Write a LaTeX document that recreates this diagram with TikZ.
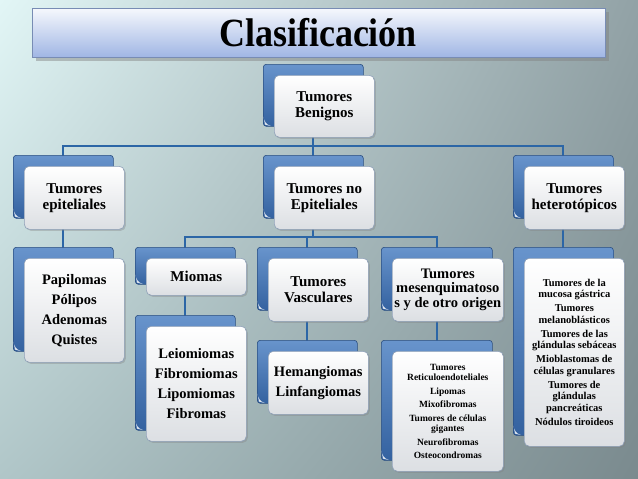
\documentclass[tikz,border=0pt]{standalone}
\usepackage{fontspec}
\setmainfont{Liberation Serif}[BoldFont={Liberation Serif Bold}]
\usepackage{tikz}
\usetikzlibrary{calc,shadows,shadings,backgrounds}
\definecolor{BgTL}{RGB}{226,246,246}
\definecolor{BgTR}{RGB}{146,162,166}
\definecolor{BgBL}{RGB}{176,198,200}
\definecolor{BgBR}{RGB}{122,138,142}
\definecolor{LinkBlue}{RGB}{44,102,166}
\definecolor{BoxBlueT}{RGB}{104,148,204}
\definecolor{BoxBlueB}{RGB}{52,98,160}
\definecolor{FrontGray}{RGB}{220,223,227}
\definecolor{EdgeGray}{RGB}{140,158,182}
\definecolor{BarTop}{RGB}{246,248,253}
\definecolor{BarBot}{RGB}{160,182,228}
\definecolor{BarEdge}{RGB}{120,140,180}
\tikzset{
  backbox/.style ={rectangle, rounded corners=3pt, draw=BoxBlueB!80!black, line width=.6pt,
                   top color=BoxBlueT, bottom color=BoxBlueB, anchor=north west, inner sep=0pt},
  frontbox/.style={rectangle, rounded corners=5pt, draw=EdgeGray, line width=.6pt,
                   top color=white, bottom color=FrontGray, text=black, align=center,
                   font=\rmfamily\bfseries\fontsize{15}{16}\selectfont, anchor=north west, inner sep=2pt,
                   drop shadow={shadow xshift=1.5pt, shadow yshift=-1.5pt, opacity=.35}},
  curl/.style    ={fill=white, opacity=.85},
  conn/.style    ={draw=LinkBlue, line width=2pt},
  titlebar/.style={rectangle, draw=BarEdge, line width=.8pt, top color=BarTop, bottom color=BarBot,
                   minimum width=573pt, minimum height=49pt,
                   drop shadow={shadow xshift=4pt, shadow yshift=-4pt, opacity=.45}},
  titletext/.style={font=\rmfamily\bfseries\fontsize{40}{42}\selectfont, inner sep=0pt},
}
% box pair: [front options]{name}{x}{y}{width}{height}{text}
\newcommand{\tumbox}[7][]{%
  \node[backbox, minimum width=#5pt, minimum height=#6pt] (#2B) at (#3,#4) {};
  \fill[curl] ($(#2B.south west)+(0.5,-10)$) to[bend right=35] ($(#2B.south west)+(8,-0.5)$)
    -- ($(#2B.south west)+(2,-2)$) -- cycle;
  \node[frontbox, minimum width=#5pt, minimum height=#6pt, #1] (#2) at (#3+11,#4+11) {#7};
}

\begin{document}
\begin{tikzpicture}[x=1pt,y=-1pt]
  \useasboundingbox (0,0) rectangle (638,479);
  \begin{pgfonlayer}{background}
    \shade[upper left=BgTL, upper right=BgTR, lower left=BgBL, lower right=BgBR] (0,0) rectangle (638,479);
  \end{pgfonlayer}

  % title
  \node[titlebar] (bar) at (318.5,32.5) {};
  \node[titletext] (title) at (318,33) {\scalebox{0.9}[1]{Clasificación}};

  % level 1 and 2
  \tumbox{ben}{263}{64}{100}{62}{Tumores\\Benignos}
  \tumbox{epi}{13}{155}{100}{63}{Tumores\\epiteliales}
  \tumbox{noepi}{263}{155}{100}{63}{Tumores no\\Epiteliales}
  \tumbox{het}{513}{155}{100}{63}{Tumores\\heterotópicos}

  % level 3
  \tumbox[font=\rmfamily\bfseries\fontsize{14.5}{16}\selectfont]{pap}{13}{247}{100}{104}
    {Papilomas\\[4pt]Pólipos\\[4pt]Adenomas\\[4pt]Quistes}
  \tumbox{mio}{135}{247}{100}{37}{Miomas}
  \tumbox{vasc}{257}{247}{100}{63}{Tumores\\Vasculares}
  \tumbox[font=\rmfamily\bfseries\fontsize{14.5}{14.5}\selectfont]{mes}{381}{247}{111}{63}
    {Tumores\\mesenquimatoso\\s y de otro origen}
  \tumbox[font=\rmfamily\bfseries\fontsize{10.5}{11.5}\selectfont]{hetl}{513}{247}{100}{188}
    {Tumores de la\\mucosa gástrica\\[2.5pt]Tumores\\melanoblásticos\\[2.5pt]Tumores de las\\glándulas sebáceas\\[2.5pt]Mioblastomas de\\células granulares\\[2.5pt]Tumores de\\glándulas\\pancreáticas\\[2.5pt]Nódulos tiroideos}

  % level 4
  \tumbox[font=\rmfamily\bfseries\fontsize{14.5}{16}\selectfont]{leio}{135}{315}{100}{115}
    {Leiomiomas\\[4pt]Fibromiomas\\[4pt]Lipomiomas\\[4pt]Fibromas}
  \tumbox[font=\rmfamily\bfseries\fontsize{14.5}{16}\selectfont]{hem}{257}{340}{100}{63}
    {Hemangiomas\\[4pt]Linfangiomas}
  \tumbox[font=\rmfamily\bfseries\fontsize{9.5}{10.5}\selectfont]{mesl}{381}{340}{111}{120}
    {Tumores\\Reticuloendoteliales\\[3pt]Lipomas\\[3pt]Mixofibromas\\[3pt]Tumores de células\\gigantes\\[3pt]Neurofibromas\\[3pt]Osteocondromas}

  % connectors
  \coordinate (bus1) at (0,146);
  \coordinate (bus2) at (0,237);
  \begin{pgfonlayer}{background}
    \draw[conn] (benB.center) -- (noepiB.center);
    \draw[conn] (benB.center |- bus1) -| (epiB.center);
    \draw[conn] (benB.center |- bus1) -| (hetB.center);
    \draw[conn] (noepiB.center) -- (noepiB.center |- bus2) -| (mioB.center);
    \draw[conn] (noepiB.center |- bus2) -| (mesB.center);
    \draw[conn] (noepiB.center |- bus2) -| (vascB.center);
    \draw[conn] (epiB.center) -- (papB.center);
    \draw[conn] (hetB.center) -- (hetlB.center);
    \draw[conn] (mioB.center) -- (leioB.center);
    \draw[conn] (vascB.center) -- (hemB.center);
    \draw[conn] (mesB.center) -- (meslB.center);
  \end{pgfonlayer}
\end{tikzpicture}
\end{document}
